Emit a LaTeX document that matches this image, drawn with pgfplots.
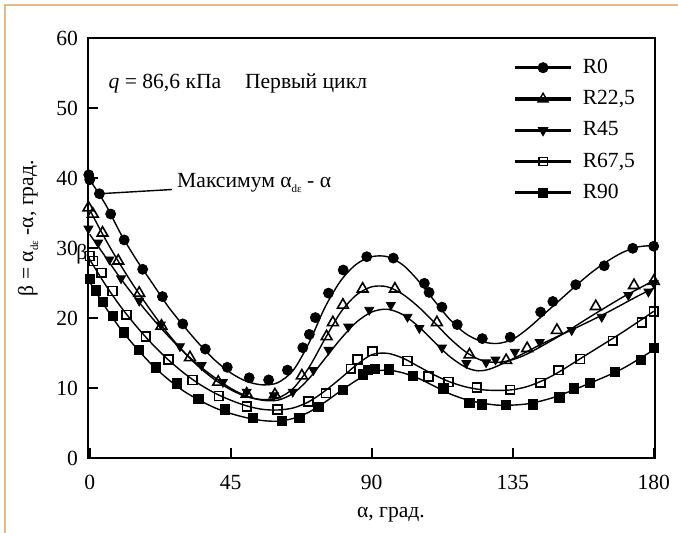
\documentclass[border=0pt]{standalone}
\usepackage{fontspec}
\setmainfont{Liberation Serif}
\usepackage{pgfplots}
\pgfplotsset{compat=1.18}
\definecolor{frametan}{RGB}{226,186,130}
\newcommand\F{\fontsize{10.8bp}{13bp}\selectfont}
\newcommand\sub[1]{\raisebox{-0.5ex}{\fontsize{5.5bp}{6bp}\selectfont #1}}
\begin{document}
\begin{tikzpicture}
\useasboundingbox (-44.15bp,-37.35bp) rectangle (294.85bp,229.15bp);
\fill[frametan] (-42.15bp,-37.35bp) rectangle (-41.15bp,227.15bp);
\fill[frametan] (-42.15bp,226.15bp) rectangle (294.85bp,227.15bp);
\begin{axis}[
  at={(0,0)}, anchor=south west,
  scale only axis, width=283.35bp, height=210bp,
  xmin=-0.45, xmax=180.4, ymin=0, ymax=60,
  xtick={0,45,90,135,180}, ytick={0,10,20,30,40,50,60},
  tick align=inside, xtick pos=bottom, ytick pos=left,
  major tick length=5bp,
  every tick/.style={black, line width=1bp},
  axis line style={line width=1bp},
  /pgf/number format/assume math mode=true,
  tick label style={font=\F},
  yticklabel style={xshift=-1.7bp},
  xticklabel style={yshift=-4.9bp},
  xlabel={\F α, град.},
  xlabel style={at={(axis description cs:0.534,-0.135)}, anchor=center},
  ylabel={\F β = α\sub{dε} -α, град.},
  ylabel style={at={(axis description cs:-0.1064,0.548)}, anchor=center},
  clip=false,
  legend image code/.code={
    \draw[#1, line width=1.6bp, mark=none] (0bp,0bp) -- (28.3bp,0bp);
    \draw[#1, line width=0.7bp] plot coordinates {(14.15bp,0bp)};
  },
  legend style={at={(axis description cs:0.749,0.954)}, anchor=north west,
    draw=none, fill=none, inner sep=0pt, row sep=6bp, column sep=4.4bp,
    font=\F, nodes={inner sep=0.5bp, anchor=west}},
  legend cell align=left,
]
% legend images
\addlegendimage{black, mark=*, mark size=2.4bp}
\addlegendentry{R0}
\addlegendimage{black, mark=triangle, mark size=2.9bp}
\addlegendentry{R22,5}
\addlegendimage{black, mark=triangle*, mark size=2.5bp, mark options={rotate=180}}
\addlegendentry{R45}
\addlegendimage{black, mark=square, mark size=2.1bp}
\addlegendentry{R67,5}
\addlegendimage{black, mark=square*, mark size=2.2bp}
\addlegendentry{R90}

% ---- fitted curves
\addplot[black, line width=0.7bp, smooth, no markers, forget plot] coordinates {
(0,39.8)(5,36.3)(10,32)(15,28.3)(20,25)(25,21.7)(30,18.9)(35,16.3)(40,14)(45,12.2)(50,11)(55,10.5)(60,10.8)(65,12.6)(70,16.5)(75,21.5)(80,25.3)(85,27.7)(90,28.8)(95,28.8)(100,27.6)(105,25.3)(110,22.5)(115,19.8)(120,17.8)(125,16.7)(130,16.4)(135,17)(140,18.6)(145,20.6)(150,22.6)(155,24.6)(160,26.5)(165,28.1)(170,29.4)(175,30.2)(180,30.4)};
\addplot[black, line width=0.7bp, smooth, no markers, forget plot] coordinates {
(0,35.5)(5,31.3)(10,27.5)(15,24)(20,20.8)(25,17.8)(30,15.2)(35,13)(40,11.2)(45,9.8)(50,8.8)(55,8.4)(60,8.6)(65,10)(70,13)(75,17)(80,20.8)(85,23.3)(90,24.5)(95,24.5)(100,23.4)(105,21.6)(110,19.4)(115,17.1)(120,15.2)(125,14)(130,13.7)(135,14.1)(140,15)(150,17.5)(160,20.3)(170,23)(175,24.2)(180,25.4)};
\addplot[black, line width=0.7bp, smooth, no markers, forget plot] coordinates {
(0,32)(5,28.8)(10,25.6)(15,22.7)(20,20)(25,17.5)(30,15.2)(35,13.2)(40,11.5)(45,10)(50,8.9)(55,8.3)(60,8.3)(65,9.3)(70,11.4)(75,14.2)(80,17)(85,19.4)(90,20.9)(95,21.3)(100,20.5)(105,18.8)(110,16.6)(115,14.5)(120,13)(124,12.5)(128,12.8)(135,14.2)(145,16.5)(155,18.6)(165,20.8)(175,23.2)(180,24.3)};
\addplot[black, line width=0.7bp, smooth, no markers, forget plot] coordinates {
(0,28.4)(5,24.8)(10,21.6)(15,18.8)(20,16.3)(25,14.1)(30,12.2)(35,10.6)(40,9.3)(45,8.3)(50,7.5)(55,7)(60,6.9)(65,7.2)(70,8.1)(75,9.6)(80,11.4)(85,13.3)(90,14.8)(95,15)(100,14.3)(105,13.1)(110,11.9)(115,10.9)(120,10.2)(125,9.8)(130,9.7)(135,9.8)(140,10.3)(145,11.2)(150,12.4)(160,15.2)(170,18)(180,21)};
\addplot[black, line width=0.7bp, smooth, no markers, forget plot] coordinates {
(0,25.2)(5,21.6)(10,18.4)(15,15.7)(20,13.3)(25,11.3)(30,9.6)(35,8.3)(40,7.2)(45,6.4)(50,5.8)(55,5.4)(60,5.3)(65,5.7)(70,6.6)(75,8)(80,9.6)(85,11.1)(90,12.3)(95,12.6)(100,12.2)(105,11.4)(110,10.3)(115,9.2)(120,8.4)(125,7.9)(130,7.6)(135,7.6)(140,7.8)(145,8.3)(150,9)(160,10.8)(170,12.8)(180,15.5)};

% ---- measured points
\addplot[black, only marks, mark=*, mark size=2.5bp, forget plot] coordinates {
(-0.3,40.5)(0,39.8)(3.1,37.8)(6.7,34.9)(11.0,31.2)(16.9,27.0)(23.2,23.1)(29.7,19.2)(36.9,15.6)(43.9,13.0)(50.9,11.5)(57.1,11.2)(63.1,12.6)(68.0,15.8)(70.1,17.7)(72.0,20.1)(76.2,23.6)(80.9,26.9)(88.4,28.8)(96.9,28.6)(106.8,25.0)(108.3,23.7)(112.4,21.6)(117.3,19.1)(125.3,17.1)(134.2,17.3)(143.9,20.9)(147.8,22.4)(155.1,24.8)(164.2,27.5)(173.3,30.0)(180,30.3)};
\addplot[black, only marks, mark=triangle, mark size=3.1bp, mark options={line width=0.8bp}, forget plot] coordinates {
(-0.4,35.8)(1.0,34.9)(4.1,32.2)(9.1,28.2)(15.8,23.6)(22.9,18.9)(32.0,14.4)(41.0,10.9)(50.1,9.2)(59.1,9.1)(67.7,11.8)(75.6,17.4)(77.6,19.4)(80.8,21.9)(87.1,24.2)(97.4,24.2)(110.8,19.4)(121.2,14.8)(132.9,14.0)(139.6,15.7)(149.1,18.3)(161.5,21.7)(173.7,24.7)(180,25.3)};
\addplot[black, only marks, mark=triangle*, mark size=2.6bp, mark options={rotate=180}, forget plot] coordinates {
(-0.4,32.8)(2.7,30.8)(6.3,28.4)(10.0,25.7)(15.8,22.5)(22.7,19.1)(28.8,16.0)(35.7,13.3)(42.5,10.9)(50.1,9.5)(58.8,9.0)(64.8,9.5)(71.4,12.6)(76.2,15.5)(82.5,18.8)(89.2,21.2)(96.1,21.9)(101.4,20.2)(105.2,18.6)(112.4,15.8)(120.2,13.6)(126.5,13.7)(129.5,14.1)(135.7,15.2)(143.6,16.6)(153.8,18.3)(163.4,20.2)(171.9,23.3)(178.3,23.8)(180,25.0)};
\addplot[black, only marks, mark=square, mark size=2.2bp, mark options={line width=0.8bp}, forget plot] coordinates {
(0,28.9)(1.1,28.2)(3.8,26.5)(7.3,23.9)(11.7,20.5)(17.9,17.4)(25.1,14.1)(32.8,11.2)(41.2,8.9)(50.1,7.4)(59.9,7.0)(69.8,8.1)(75.4,9.3)(83.3,12.8)(85.4,14.1)(90.3,15.3)(101.4,13.9)(108.1,11.7)(114.5,10.9)(123.5,10.1)(134.2,9.8)(143.9,10.8)(149.6,12.6)(156.5,14.2)(166.9,16.8)(176.2,19.4)(180,21.0)};
\addplot[black, only marks, mark=square*, mark size=2.3bp, forget plot] coordinates {
(0,25.6)(2.0,24.0)(4.3,22.4)(7.3,20.4)(10.9,18.0)(15.8,15.5)(21.2,13.0)(27.8,10.7)(34.7,8.5)(43.2,7.0)(52.0,5.8)(61.3,5.3)(66.9,5.8)(73.0,7.4)(80.9,9.8)(87.1,12.0)(88.9,12.6)(91.1,12.8)(95.6,12.7)(103.1,11.8)(112.9,10.0)(121.2,7.9)(125.1,7.7)(132.9,7.6)(141.4,7.7)(149.9,8.7)(154.4,10.0)(159.5,10.8)(167.7,12.3)(175.9,14.1)(180,15.8)};

% ---- annotations
\draw[black, line width=0.7bp] (axis cs:3.3,37.8) -- (axis cs:26.2,38.4);
\node[anchor=west, inner sep=0pt, font=\F] at (axis cs:27.8,39.3) {Максимум α\sub{dε} - α};
\node[anchor=west, inner sep=0pt, font=\F] at (axis cs:5.9,53.6) {\textit{q} = 86,6 кПа\hspace{1.1em}Первый цикл};
\node[inner sep=0pt, font=\F] at (axis cs:-2.5,29.2) {β};
\end{axis}
\end{tikzpicture}
\end{document}
